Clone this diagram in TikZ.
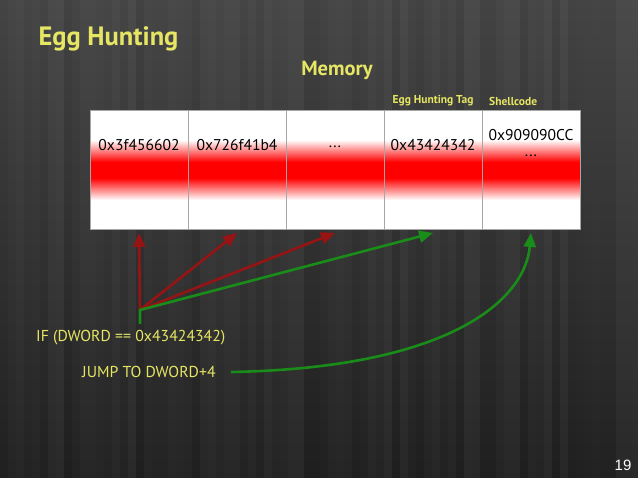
\documentclass[tikz,border=0pt]{standalone}
\usepackage{fontspec}
\setmainfont{PT Sans}
\newfontfamily\pagenumfont{Liberation Sans}
\usetikzlibrary{arrows.meta,positioning}
\definecolor{slideyellow}{RGB}{230,230,100}
\definecolor{missred}{RGB}{150,20,20}
\definecolor{hitgreen}{RGB}{25,140,25}
\definecolor{bgdark}{RGB}{30,30,30}
\definecolor{bglight}{RGB}{66,66,66}
\definecolor{bandred}{RGB}{255,0,0}
\tikzset{
    cell/.style={draw=gray!70, thin, minimum width=98pt, minimum height=119pt,
        inner sep=0pt, outer sep=0pt},
    val/.style={text=black, font=\fontsize{15.6}{18}\selectfont, inner sep=1pt},
    tag/.style={text=slideyellow, font=\bfseries\fontsize{11.5}{13}\selectfont, inner sep=1pt},
    code/.style={text=slideyellow, font=\fontsize{15.8}{18}\selectfont, inner sep=1pt, anchor=west},
    miss/.style={missred, line width=2.6pt, -{Triangle[width=12pt,length=14pt]}},
    hit/.style={hitgreen, line width=2.6pt, -{Triangle[width=12pt,length=14pt]}}
}
\begin{document}
\begin{tikzpicture}[x=1pt, y=-1pt]
    \useasboundingbox (0,0) rectangle (638,478);
    % background
    \shade[top color=bglight, bottom color=bgdark] (0,0) rectangle (638,478);
    \pgfmathsetseed{19}
    \foreach \x in {0,8,...,632} {
        \pgfmathsetmacro\streak{rnd*5}
        \fill[white, opacity=\streak/100] (\x,0) rectangle (\x+8,478);
    }

    % titles
    \node[anchor=west, text=slideyellow, font=\bfseries\fontsize{26.5}{30}\selectfont] (title) at (35,39) {Egg Hunting};
    \node[text=slideyellow, font=\bfseries\fontsize{20.5}{24}\selectfont] (mem) at (337,70) {Memory};

    % memory band
    \fill[white] (90,110) rectangle (580,229);
    \shade[top color=white, bottom color=bandred] (90,140) rectangle (580,162);
    \fill[bandred] (90,162) rectangle (580,178);
    \shade[top color=bandred, bottom color=white] (90,178) rectangle (580,200);

    % cells
    \node[cell, anchor=north west] (c1) at (90,110) {};
    \node[cell, right=0pt of c1] (c2) {};
    \node[cell, right=0pt of c2] (c3) {};
    \node[cell, right=0pt of c3] (c4) {};
    \node[cell, right=0pt of c4] (c5) {};

    \node[val] (v1) at ([yshift=-35pt]c1.north) {0x3f456602};
    \node[val] (v2) at ([yshift=-35pt]c2.north) {0x726f41b4};
    \node[val] (v3) at ([yshift=-37pt]c3.north) {...};
    \node[val] (v4) at ([yshift=-35pt]c4.north) {0x43424342};
    \node[val] (v5) at ([yshift=-25pt]c5.north) {0x909090CC};
    \node[val] (v6) at ([yshift=-46pt]c5.north) {...};

    \node[tag, above=3pt of c4] (lbltag) {Egg Hunting Tag};
    \node[tag, above=3pt of c5.north west, anchor=south west, xshift=6pt] (lblcode) {Shellcode};

    % checks
    \coordinate (src) at (140,310);
    \draw[miss] (src) -- ([yshift=-4pt]c1.south);
    \draw[miss] (src) -- ([yshift=-4pt]c2.south);
    \draw[miss] (src) -- ([yshift=-4pt]c3.south);
    \draw[hit] ([yshift=-14pt]src) -- (src) -- ([yshift=-4pt]c4.south);

    \node[code] (cond) at (35,338) {IF (DWORD == 0x43424342)};
    \node[code] (jump) at (81,372) {JUMP TO DWORD+4};
    \draw[hit] ([xshift=14pt]jump.east) .. controls (450,368) and (525,300) .. ([yshift=-4pt]c5.south);

    \node[text=white, font=\pagenumfont\fontsize{15}{17}\selectfont] (pnum) at (623,465) {19};
\end{tikzpicture}
\end{document}
